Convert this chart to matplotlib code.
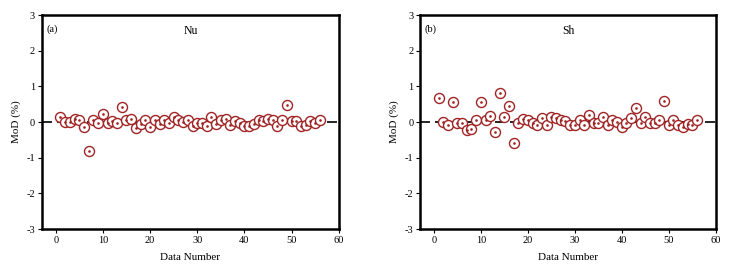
import matplotlib
matplotlib.use('Agg')
import matplotlib.pyplot as plt
import numpy as np

plt.rcParams['font.family'] = ['Liberation Serif', 'DejaVu Serif']
plt.rcParams['axes.unicode_minus'] = False

# data number 1..56
data_number = list(range(1, 57))

# MoD (%) for Nu
mod_nu = [0.13, 0.0, 0.0, 0.1, 0.05, -0.15, -0.8, 0.05, -0.02, 0.22,
          -0.02, 0.02, -0.03, 0.42, 0.07, 0.1, -0.17, -0.05, 0.07, -0.15,
          0.07, -0.05, 0.05, -0.02, 0.15, 0.07, 0.0, 0.07, -0.1, -0.03,
          -0.02, -0.1, 0.15, -0.05, 0.05, 0.1, -0.07, 0.03, -0.02, -0.1,
          -0.1, -0.05, 0.05, 0.02, 0.1, 0.05, -0.1, 0.05, 0.48, 0.02,
          0.02, -0.1, -0.07, 0.02, -0.02, 0.05]

# MoD (%) for Sh
mod_sh = [0.68, 0.0, -0.07, 0.57, -0.02, -0.03, -0.22, -0.19, 0.07, 0.57,
          0.07, 0.17, -0.27, 0.83, 0.15, 0.44, -0.6, -0.03, 0.09, 0.07,
          -0.03, -0.07, 0.11, -0.09, 0.15, 0.11, 0.05, 0.02, -0.09, -0.07,
          0.05, -0.07, 0.19, -0.03, -0.03, 0.15, -0.09, 0.05, 0.0, -0.15,
          -0.02, 0.11, 0.39, -0.03, 0.15, -0.02, -0.02, 0.07, 0.59, -0.07,
          0.07, -0.09, -0.15, -0.05, -0.07, 0.05]

panels = [('(a)', 'Nu', mod_nu), ('(b)', 'Sh', mod_sh)]
x_ticks = [0, 10, 20, 30, 40, 50, 60]
y_ticks = [-3, -2, -1, 0, 1, 2, 3]
mk_color = '#a02424'

fig = plt.figure(figsize=(7.38, 2.75), dpi=100)
fig.patch.set_facecolor('white')

positions = [[0.057, 0.167, 0.402, 0.778], [0.5695, 0.167, 0.4003, 0.778]]

for pos, (tag, name, vals) in zip(positions, panels):
    ax = fig.add_axes(pos)
    ax.axhline(0, color='black', linestyle=(0, (6, 3)), linewidth=1.2, zorder=1)
    ax.scatter(data_number, vals, s=52, facecolors='white',
               edgecolors=mk_color, linewidths=1.0, zorder=2)
    ax.scatter(data_number, vals, s=0.8, color=mk_color, zorder=3)
    ax.set_xlim(-2.9, 60)
    ax.set_ylim(-3, 3)
    ax.set_xticks(x_ticks)
    ax.set_yticks(y_ticks)
    ax.tick_params(direction='out', length=3, width=0.8, labelsize=7.5,
                   pad=2, top=False, right=False)
    for sp in ax.spines.values():
        sp.set_linewidth(1.8)
    ax.set_xlabel('Data Number', fontsize=8, labelpad=6)
    ax.set_ylabel('MoD (%)', fontsize=8, labelpad=4)
    ax.text(0.015, 0.955, tag, transform=ax.transAxes, fontsize=7.5,
            va='top', ha='left')
    ax.text(0.5, 0.955, name, transform=ax.transAxes, fontsize=8.5,
            va='top', ha='center')

fig.savefig('out.png', dpi=100)
